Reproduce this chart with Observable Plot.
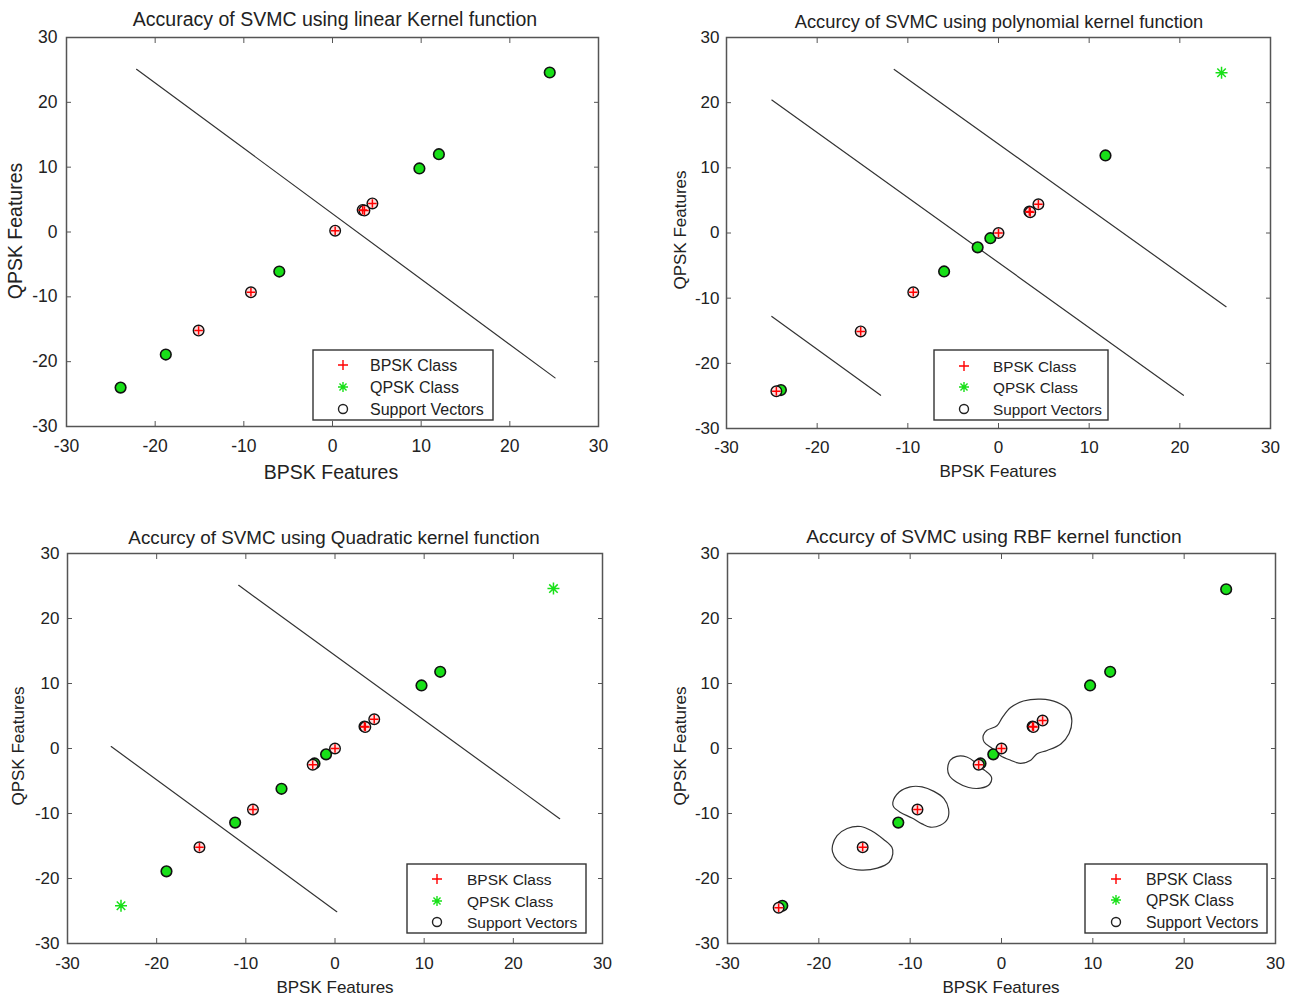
<!DOCTYPE html>
<html>
<head>
<meta charset="utf-8">
<script src="https://cdn.jsdelivr.net/npm/d3@7"></script>
<script src="https://cdn.jsdelivr.net/npm/@observablehq/plot@0.6"></script>
<style>
  body { margin: 0; background: #fff; font-family: "Liberation Sans", Arial, sans-serif; }
  #root { position: relative; width: 1295px; height: 999px; overflow: hidden; }
  .lbl { position: absolute; white-space: nowrap; line-height: 1; color: #222; font-family: "Liberation Sans", Arial, sans-serif; }
</style>
</head>
<body>
<div id="root"></div>
<script>
// ---------------- DATA ----------------
const ticks = [-30, -20, -10, 0, 10, 20, 30];
const tickLabels = ["-30", "-20", "-10", "0", "10", "20", "30"];
const xLabel = "BPSK Features";
const yLabel = "QPSK Features";
const legendLabels = ["BPSK Class", "QPSK Class", "Support Vectors"];

// Panel 1: linear kernel
const linTitle = "Accuracy of SVMC using linear Kernel function";
const linBpskX = [0.3, 3.4, 3.6, 4.5, -9.2, -15.1];
const linBpskY = [0.2, 3.4, 3.3, 4.4, -9.3, -15.2];
const linBpskSV = [1, 1, 1, 1, 1, 1];
const linQpskX = [24.5, 9.8, 12.0, -6.0, -18.8, -23.9];
const linQpskY = [24.6, 9.8, 12.0, -6.1, -18.9, -24.0];
const linQpskSV = [1, 1, 1, 1, 1, 1];
const linLine1X = [-22.1, 25.1];
const linLine1Y = [25.1, -22.5];

// Panel 2: polynomial kernel
const polyTitle = "Accurcy of SVMC using polynomial kernel function";
const polyBpskX = [3.4, 3.5, 4.4, 0.0, -9.4, -15.2, -24.5];
const polyBpskY = [3.3, 3.2, 4.4, 0.0, -9.1, -15.1, -24.3];
const polyBpskSV = [1, 1, 1, 1, 1, 1, 1];
const polyQpskX = [24.6, 11.8, -0.9, -2.3, -6.0, -24.0];
const polyQpskY = [24.6, 11.9, -0.8, -2.2, -5.9, -24.1];
const polyQpskSV = [0, 1, 1, 1, 1, 1];
const polyLine1X = [-25.0, 20.4];
const polyLine1Y = [20.4, -24.9];
const polyLine2X = [-11.5, 25.1];
const polyLine2Y = [25.1, -11.3];
const polyLine3X = [-25.0, -13.0];
const polyLine3Y = [-12.8, -24.9];

// Panel 3: quadratic kernel
const quadTitle = "Accurcy of SVMC using Quadratic kernel function";
const quadBpskX = [3.3, 3.4, 4.4, 0.0, -2.5, -9.2, -15.2];
const quadBpskY = [3.4, 3.3, 4.5, 0.0, -2.5, -9.4, -15.2];
const quadBpskSV = [1, 1, 1, 1, 1, 1, 1];
const quadQpskX = [24.5, -24.0, 11.8, 9.7, -1.0, -2.3, -6.0, -11.2, -18.9];
const quadQpskY = [24.6, -24.2, 11.8, 9.7, -0.9, -2.3, -6.2, -11.4, -18.9];
const quadQpskSV = [0, 0, 1, 1, 1, 1, 1, 1, 1];
const quadLine1X = [-25.1, 0.2];
const quadLine1Y = [0.3, -25.1];
const quadLine2X = [-10.8, 25.2];
const quadLine2Y = [25.1, -10.8];

// Panel 4: RBF kernel
const rbfTitle = "Accurcy of SVMC using RBF kernel function";
const rbfBpskX = [3.4, 3.5, 4.5, 0.0, -2.5, -9.2, -15.2, -24.4];
const rbfBpskY = [3.4, 3.3, 4.3, 0.0, -2.5, -9.4, -15.2, -24.5];
const rbfBpskSV = [1, 1, 1, 1, 1, 1, 1, 1];
const rbfQpskX = [24.6, 11.9, 9.7, -0.9, -2.3, -11.3, -24.0];
const rbfQpskY = [24.5, 11.8, 9.7, -0.9, -2.3, -11.4, -24.2];
const rbfQpskSV = [1, 1, 1, 1, 1, 1, 1];
// decision-boundary contours
const rbfC1X = [-18.5, -18.0, -16.9, -15.4, -14.2, -12.9, -12.0, -11.9, -12.3, -13.6, -15.3, -16.9, -18.0, -18.5];
const rbfC1Y = [-14.9, -13.4, -12.3, -12.0, -12.7, -14.0, -15.2, -16.2, -17.5, -18.4, -18.7, -18.3, -17.2, -15.9];
const rbfC2X = [-11.9, -11.2, -10.0, -8.7, -7.4, -6.3, -5.8, -5.9, -6.7, -7.8, -8.7, -9.8, -11.1, -11.8];
const rbfC2Y = [-8.3, -6.7, -5.9, -5.9, -6.6, -7.7, -9.3, -10.8, -11.8, -12.1, -11.6, -10.7, -9.8, -9.0];
const rbfC3X = [-5.9, -5.6, -4.9, -3.8, -3.0, -2.5, -1.8, -1.1, -1.3, -2.3, -3.6, -4.9, -5.7];
const rbfC3Y = [-3.1, -1.8, -1.2, -1.3, -2.0, -2.8, -3.4, -4.4, -5.5, -6.1, -6.0, -5.2, -4.2];
const rbfC4X = [-2.0, -1.6, -0.5, 0.1, 1.0, 2.4, 4.3, 6.1, 7.4, 7.7, 7.4, 6.5, 5.0, 3.9, 3.2, 2.1, 1.0, -0.1, -1.0, -1.9];
const rbfC4Y = [2.0, 2.8, 3.5, 4.8, 6.3, 7.3, 7.6, 7.1, 5.8, 4.3, 2.3, 0.7, -0.3, -0.8, -1.8, -2.3, -1.8, -1.1, 0.0, 1.0];

// ---------------- STYLES ----------------
const RED = "#ff0000";
const GREEN = "#18e018";
const FONT = "'Liberation Sans', Arial, sans-serif";

const symPlus = {
  draw(ctx, size) {
    const r = Math.sqrt(size / Math.PI);
    ctx.moveTo(-r, 0); ctx.lineTo(r, 0);
    ctx.moveTo(0, -r); ctx.lineTo(0, r);
  }
};
const symStar = {
  draw(ctx, size) {
    const r = Math.sqrt(size / Math.PI);
    const d = r * Math.SQRT1_2;
    ctx.moveTo(-r, 0); ctx.lineTo(r, 0);
    ctx.moveTo(0, -r); ctx.lineTo(0, r);
    ctx.moveTo(-d, -d); ctx.lineTo(d, d);
    ctx.moveTo(-d, d); ctx.lineTo(d, -d);
  }
};

const root = document.getElementById("root");

function addText(txt, cx, cy, size, rotate) {
  const el = document.createElement("div");
  el.className = "lbl";
  el.textContent = txt;
  el.style.left = cx + "px";
  el.style.top = cy + "px";
  el.style.fontSize = size + "px";
  el.style.transform = "translate(-50%,-50%)" + (rotate ? " rotate(-90deg)" : "");
  root.appendChild(el);
}

function addLegend(lg) {
  const svg = d3.create("svg")
    .attr("width", lg.w + 4).attr("height", lg.h + 4)
    .style("position", "absolute")
    .style("left", (lg.x - 2) + "px").style("top", (lg.y - 2) + "px");
  svg.append("rect").attr("x", 2).attr("y", 2).attr("width", lg.w).attr("height", lg.h)
    .attr("fill", "#fff").attr("stroke", "#333").attr("stroke-width", 1.4);
  const syms = [
    {t: symPlus, c: RED, s: Math.PI * 5 * 5},
    {t: symStar, c: GREEN, s: Math.PI * 5 * 5},
    {t: d3.symbolCircle, c: "#222", s: Math.PI * 4.5 * 4.5}
  ];
  legendLabels.forEach((label, i) => {
    const cy = 2 + lg.rows[i];
    svg.append("path").attr("d", d3.symbol(syms[i].t, syms[i].s)())
      .attr("transform", `translate(${2 + lg.mx},${cy})`)
      .attr("fill", "none").attr("stroke", syms[i].c).attr("stroke-width", 1.4);
    svg.append("text").attr("x", 2 + lg.tx).attr("y", cy).attr("dy", "0.36em")
      .attr("font-family", FONT).attr("font-size", lg.fs).attr("fill", "#222").text(label);
  });
  root.appendChild(svg.node());
}

function rows(xs, ys, extra) {
  return xs.map((x, i) => ({x, y: ys[i], ...(extra ? {sv: extra[i]} : {})}));
}
function segs(list) {
  return list.flatMap(([xs, ys], k) => xs.map((x, i) => ({x, y: ys[i], k})));
}

function buildPanel(cfg) {
  const bpsk = rows(cfg.bx, cfg.by, cfg.bsv);
  const qpsk = rows(cfg.qx, cfg.qy, cfg.qsv);
  const lines = segs(cfg.lines || []);
  const contours = segs(cfg.contours || []);
  const tf = (d) => tickLabels[ticks.indexOf(d)];
  const marks = [
    Plot.axisX(ticks, {anchor: "bottom", tickSize: -5, tickPadding: cfg.xPad, fontSize: cfg.tickFs, tickFormat: tf, label: null, stroke: "#555"}),
    Plot.axisX(ticks, {anchor: "top", tickSize: -5, tickFormat: () => "", label: null, stroke: "#555"}),
    Plot.axisY(ticks, {anchor: "left", tickSize: -5, tickPadding: cfg.yPad, fontSize: cfg.tickFs, tickFormat: tf, label: null, stroke: "#555"}),
    Plot.axisY(ticks, {anchor: "right", tickSize: -5, tickFormat: () => "", label: null, stroke: "#555"}),
    Plot.frame({stroke: "#555", strokeWidth: 1.5}),
    Plot.line(lines, {x: "x", y: "y", z: "k", stroke: "#333", strokeWidth: 1.2}),
    Plot.line(contours, {x: "x", y: "y", z: "k", curve: "catmull-rom-closed", stroke: "#333", strokeWidth: 1.2}),
    Plot.dot(qpsk.filter(d => !d.sv), {x: "x", y: "y", r: 6, symbol: symStar, fill: "none", stroke: GREEN, strokeWidth: 1.5}),
    Plot.dot(qpsk.filter(d => d.sv), {x: "x", y: "y", r: 5.3, fill: GREEN, stroke: "#111", strokeWidth: 1.6}),
    Plot.dot(bpsk.filter(d => d.sv), {x: "x", y: "y", r: 5.3, fill: "#ffdede", stroke: "#111", strokeWidth: 1.4}),
    Plot.dot(bpsk, {x: "x", y: "y", r: 4.3, symbol: symPlus, fill: "none", stroke: RED, strokeWidth: 1.5})
  ];
  const svg = Plot.plot({
    width: cfg.w, height: cfg.h,
    marginLeft: cfg.fx0 - cfg.left, marginTop: cfg.fy0 - cfg.top,
    marginRight: cfg.left + cfg.w - cfg.fx1, marginBottom: cfg.top + cfg.h - cfg.fy1,
    x: {domain: [-30, 30]}, y: {domain: [-30, 30]},
    style: {fontFamily: FONT, color: "#222", background: "transparent", overflow: "visible"},
    marks
  });
  svg.style.position = "absolute";
  svg.style.left = cfg.left + "px";
  svg.style.top = cfg.top + "px";
  root.appendChild(svg);
  addText(cfg.title, cfg.titleX, cfg.titleY, cfg.titleFs);
  addText(xLabel, cfg.xlX, cfg.xlY, cfg.labelFs);
  addText(yLabel, cfg.ylX, cfg.ylY, cfg.labelFs, true);
  addLegend(cfg.legend);
}

buildPanel({
  left: 0, top: 0, w: 650, h: 500, fx0: 66, fy0: 37, fx1: 598, fy1: 426,
  bx: linBpskX, by: linBpskY, bsv: linBpskSV, qx: linQpskX, qy: linQpskY, qsv: linQpskSV,
  lines: [[linLine1X, linLine1Y]],
  title: linTitle, titleX: 335, titleY: 20, titleFs: 19.5,
  xlX: 331, xlY: 473, ylX: 16, ylY: 231, labelFs: 19.5, tickFs: 17.5, xPad: 18, yPad: 14,
  legend: {x: 313, y: 350, w: 180, h: 70, mx: 30, tx: 57, rows: [15, 37, 59], fs: 16}
});
buildPanel({
  left: 660, top: 0, w: 635, h: 500, fx0: 726, fy0: 37, fx1: 1270, fy1: 428,
  bx: polyBpskX, by: polyBpskY, bsv: polyBpskSV, qx: polyQpskX, qy: polyQpskY, qsv: polyQpskSV,
  lines: [[polyLine1X, polyLine1Y], [polyLine2X, polyLine2Y], [polyLine3X, polyLine3Y]],
  title: polyTitle, titleX: 999, titleY: 22, titleFs: 18.3,
  xlX: 998, xlY: 471, ylX: 680, ylY: 230, labelFs: 17, tickFs: 17, xPad: 17, yPad: 12,
  legend: {x: 934, y: 350, w: 174, h: 70, mx: 30, tx: 59, rows: [16, 37, 59], fs: 15.3}
});
buildPanel({
  left: 0, top: 500, w: 650, h: 499, fx0: 67, fy0: 553, fx1: 602, fy1: 943,
  bx: quadBpskX, by: quadBpskY, bsv: quadBpskSV, qx: quadQpskX, qy: quadQpskY, qsv: quadQpskSV,
  lines: [[quadLine1X, quadLine1Y], [quadLine2X, quadLine2Y]],
  title: quadTitle, titleX: 334, titleY: 538, titleFs: 18.8,
  xlX: 335, xlY: 987, ylX: 18, ylY: 746, labelFs: 17, tickFs: 17, xPad: 18, yPad: 13,
  legend: {x: 407, y: 864, w: 179, h: 69, mx: 30, tx: 60, rows: [15, 37, 58], fs: 15.5}
});
buildPanel({
  left: 660, top: 500, w: 635, h: 499, fx0: 727, fy0: 553, fx1: 1275, fy1: 943,
  bx: rbfBpskX, by: rbfBpskY, bsv: rbfBpskSV, qx: rbfQpskX, qy: rbfQpskY, qsv: rbfQpskSV,
  contours: [[rbfC1X, rbfC1Y], [rbfC2X, rbfC2Y], [rbfC3X, rbfC3Y], [rbfC4X, rbfC4Y]],
  title: rbfTitle, titleX: 994, titleY: 537, titleFs: 19.2,
  xlX: 1001, xlY: 987, ylX: 680, ylY: 746, labelFs: 17, tickFs: 17, xPad: 18, yPad: 13,
  legend: {x: 1085, y: 864, w: 182, h: 69, mx: 31, tx: 61, rows: [15, 36, 58], fs: 15.8}
});
</script>
</body>
</html>
